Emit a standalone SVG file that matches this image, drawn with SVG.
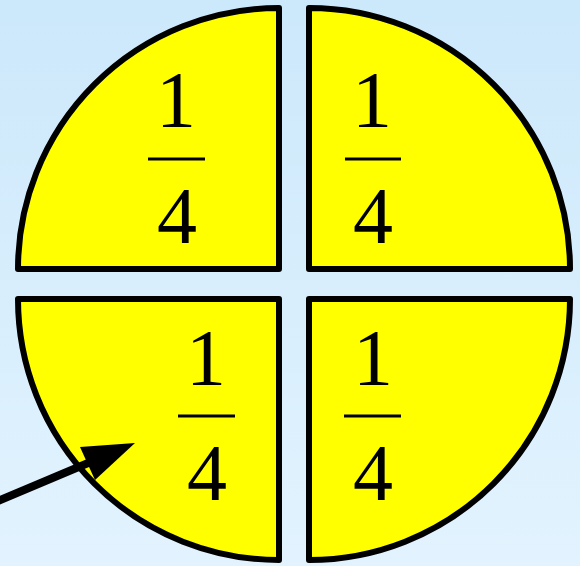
<svg xmlns="http://www.w3.org/2000/svg" width="580" height="566" viewBox="0 0 580 566">
<defs>
<linearGradient id="bg" x1="0" y1="0" x2="0" y2="1">
<stop offset="0" stop-color="#cce8fb"/>
<stop offset="1" stop-color="#e2f3fe"/>
</linearGradient>
</defs>
<style>
.q{fill:#ffff00;stroke:#000;stroke-width:6;stroke-linejoin:round}
.t{font-family:"Liberation Serif","Times New Roman",serif;font-size:80px;fill:#000;text-anchor:middle}
.bar{stroke:#000;stroke-width:3}
</style>
<rect width="580" height="566" fill="url(#bg)"/>
<g id="q-top-left">
<path class="q" d="M279,269 L18,269 A261,261 0 0 1 279,8 Z"/>
<text class="t" x="176" y="127">1</text>
<line class="bar" x1="148" y1="159" x2="205" y2="159"/>
<text class="t" x="177" y="243">4</text>
</g>
<g id="q-top-right">
<path class="q" d="M309,269 L309,8 A261,261 0 0 1 570,269 Z"/>
<text class="t" x="372" y="127">1</text>
<line class="bar" x1="345" y1="159" x2="401" y2="159"/>
<text class="t" x="373" y="243">4</text>
</g>
<g id="q-bottom-left">
<path class="q" d="M279,299 L279,560 A261,261 0 0 1 18,299 Z"/>
<text class="t" x="206" y="385">1</text>
<line class="bar" x1="178" y1="416" x2="235" y2="416"/>
<text class="t" x="207" y="500">4</text>
</g>
<g id="q-bottom-right">
<path class="q" d="M309,299 L570,299 A261,261 0 0 1 309,560 Z"/>
<text class="t" x="373" y="385">1</text>
<line class="bar" x1="344" y1="416" x2="401" y2="416"/>
<text class="t" x="373" y="500">4</text>
</g>
<g id="connectors">
<line x1="-2" y1="501" x2="100" y2="458" stroke="#000" stroke-width="8"/>
<polygon points="135,443 80,447 95,480" fill="#000"/>
</g>
</svg>
